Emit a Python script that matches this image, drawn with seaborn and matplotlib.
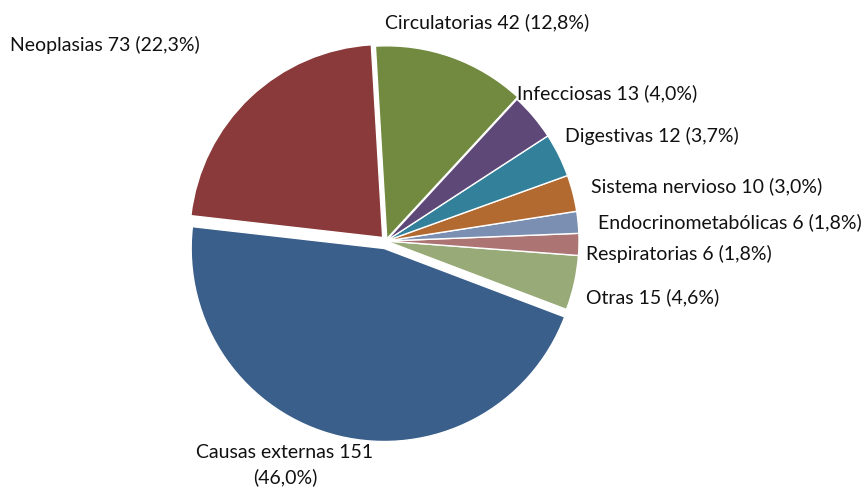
import matplotlib
matplotlib.use("Agg")
import matplotlib.pyplot as plt
import seaborn as sns

# ---- data ----
categories = ["Causas externas", "Otras", "Respiratorias", "Endocrinometabólicas",
              "Sistema nervioso", "Digestivas", "Infecciosas", "Circulatorias", "Neoplasias"]
values = [151, 15, 6, 6, 10, 12, 13, 42, 73]
percents = ["46,0%", "4,6%", "1,8%", "1,8%", "3,0%", "3,7%", "4,0%", "12,8%", "22,3%"]
colors = ["#3A5F8A", "#98AA78", "#AD7474", "#7B8FB2", "#B36A30",
          "#32809A", "#5E4878", "#718A40", "#8A3A3A"]
explode = [0.04, 0, 0, 0, 0, 0, 0, 0.012, 0.025]

# ---- layout (pixel coords of the label anchors) ----
W, H = 866, 489
cx, cy, R = 386, 242, 193
label_pos = {
    "Causas externas": (285, 465, "center"),
    "Otras": (586, 297, "left"),
    "Respiratorias": (586, 254, "left"),
    "Endocrinometabólicas": (598, 222, "left"),
    "Sistema nervioso": (591, 186, "left"),
    "Digestivas": (565, 136, "left"),
    "Infecciosas": (517, 93, "left"),
    "Circulatorias": (385, 22, "left"),
    "Neoplasias": (10, 45, "left"),
}

sns.set_theme(style="white")
plt.rcParams["font.family"] = ["Lato", "DejaVu Sans"]

fig = plt.figure(figsize=(W / 100, H / 100), dpi=100)
ax = fig.add_axes([0, 0, 1, 1])
pal = sns.color_palette(colors)
ax.pie(values, colors=pal, explode=explode, startangle=173.5, counterclock=True,
       radius=1.0, wedgeprops=dict(edgecolor="white", linewidth=1.0))

def px2data(px, py):
    return (px - cx) / R, (cy - py) / R

for cat, v, p in zip(categories, values, percents):
    px, py, ha = label_pos[cat]
    x, y = px2data(px, py)
    if cat == "Causas externas":
        txt = f"{cat} {v}\n({p})"
    else:
        txt = f"{cat} {v} ({p})"
    ax.text(x, y, txt, ha=ha, va="center", fontsize=14, color="#111111",
            linespacing=1.5)

ax.set_xlim(-cx / R, (W - cx) / R)
ax.set_ylim((cy - H) / R, cy / R)
ax.set_aspect("auto")
ax.axis("off")
fig.savefig("out.png", dpi=100, facecolor="white")
